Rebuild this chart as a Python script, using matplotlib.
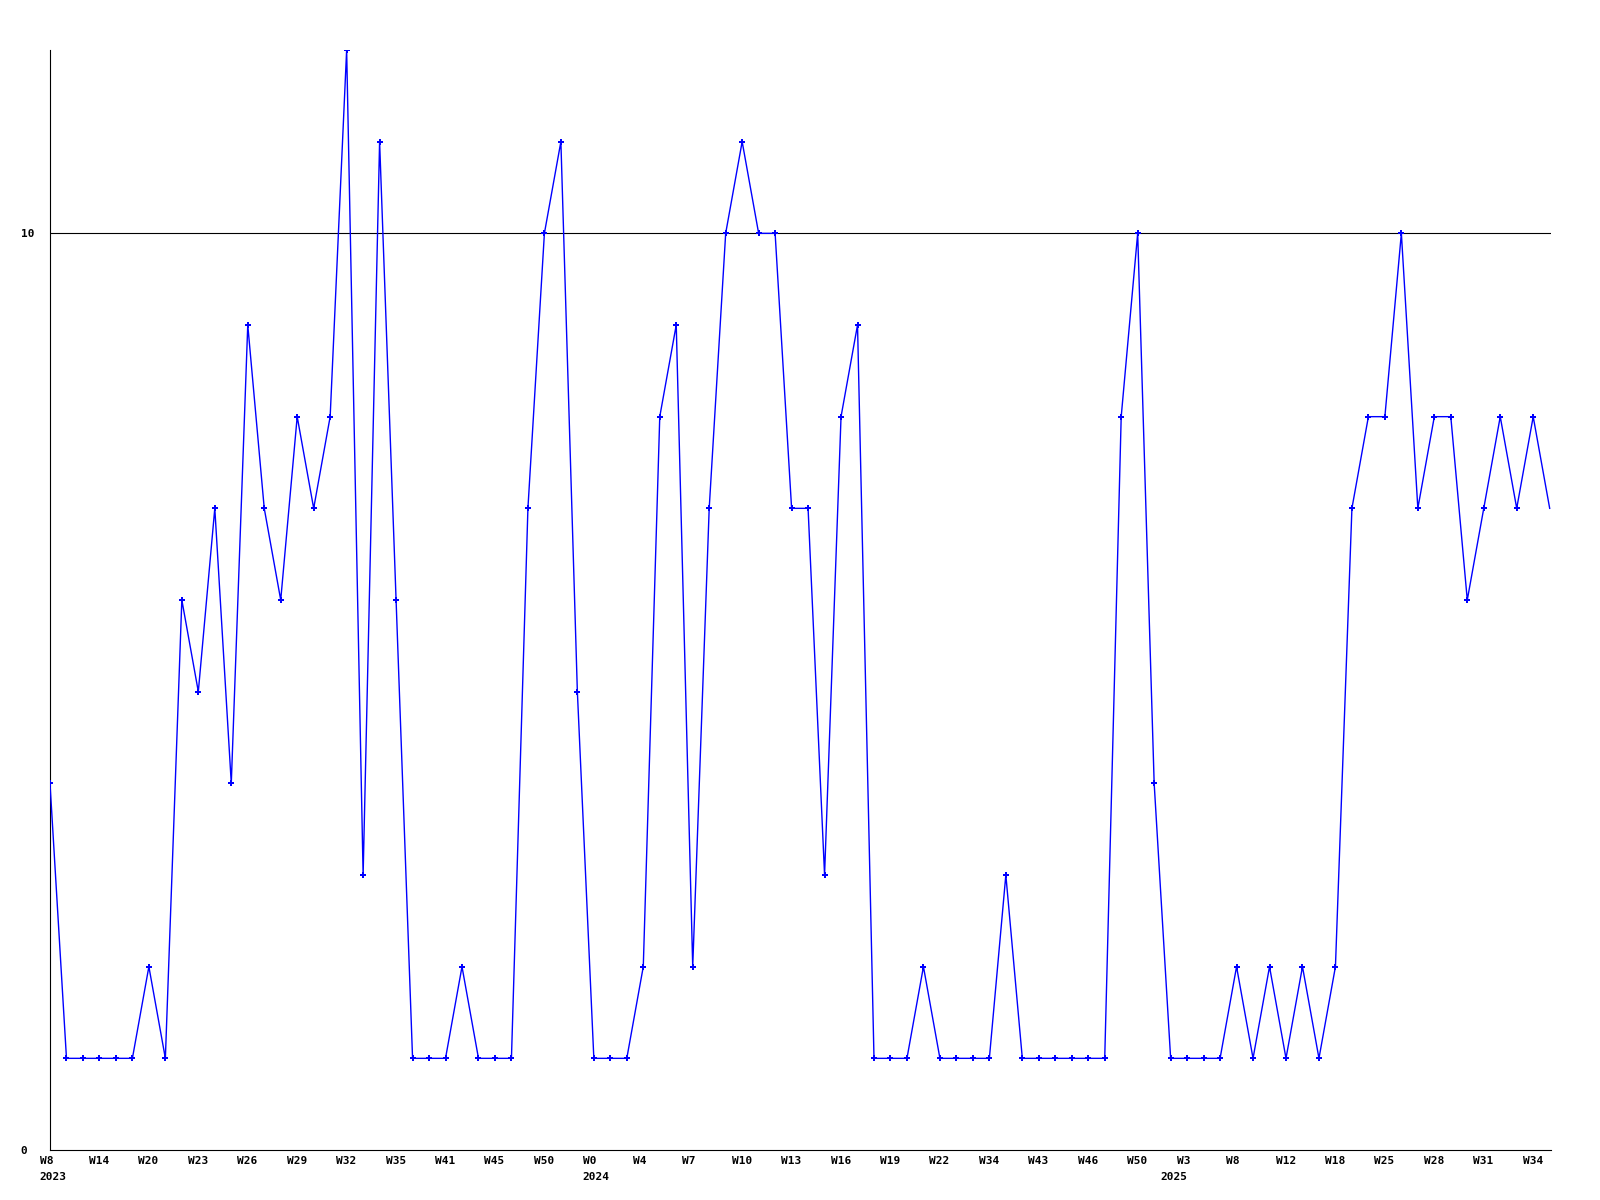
import numpy as np
import matplotlib
matplotlib.use("Agg")
import matplotlib.pyplot as plt
from matplotlib.transforms import ScaledTranslation, blended_transform_factory

values = [4, 1, 1, 1, 1, 1, 2, 1, 6, 5, 7, 4, 9, 7, 6, 8, 7, 8, 12, 3,
          11, 6, 1, 1, 1, 2, 1, 1, 1, 7, 10, 11, 5, 1, 1, 1, 2, 8, 9, 2,
          7, 10, 11, 10, 10, 7, 7, 3, 8, 9, 1, 1, 1, 2, 1, 1, 1, 1, 3, 1,
          1, 1, 1, 1, 1, 8, 10, 4, 1, 1, 1, 1, 2, 1, 2, 1, 2, 1, 2, 7,
          8, 8, 10, 7, 8, 8, 6, 7, 8, 7, 8, 7]

week_labels = ["W8", "W14", "W20", "W23", "W26", "W29", "W32", "W35", "W41", "W45",
               "W50", "W0", "W4", "W7", "W10", "W13", "W16", "W19", "W22", "W34",
               "W43", "W46", "W50", "W3", "W8", "W12", "W18", "W25", "W28", "W31",
               "W34"]
year_labels = ["2023", "2024", "2025"]
year_label_at = [0, 11, 23]

ytick_values = [0, 10]
ref_line = 10

fig = plt.figure(figsize=(16, 12), dpi=100)
ax = fig.add_axes([50 / 1600, 50 / 1200, 1501 / 1600, 1100 / 1200])

x = np.arange(len(values))
ax.plot(x, values, color="#0000ff", lw=1.0, marker="P", markersize=5,
        markeredgewidth=0, markevery=list(range(len(values) - 1)),
        clip_on=True, zorder=3)

ax.axhline(ref_line, color="black", lw=0.8, zorder=2)

px_per_pt = 16.48
ax.set_xlim(0, 1501 / px_per_pt)
ax.set_ylim(0, 12)

for s in ["top", "right"]:
    ax.spines[s].set_visible(False)
ax.spines["left"].set_linewidth(0.8)
ax.spines["bottom"].set_linewidth(0.8)

tick_pos = np.arange(len(week_labels)) * 3
ax.set_xticks(tick_pos)
ax.set_xticklabels(week_labels, fontfamily="DejaVu Sans Mono", fontweight="bold",
                   fontsize=8, ha="left")
ax.tick_params(axis="x", length=0, pad=4)
off = ScaledTranslation(-10.5 / 100, 0, fig.dpi_scale_trans)
for lab in ax.get_xticklabels():
    lab.set_transform(lab.get_transform() + off)

trans = blended_transform_factory(ax.transData, ax.transAxes)
year_offsets = [-10.5, -11, -27]
for yl, ti, dx in zip(year_labels, year_label_at, year_offsets):
    ax.text(tick_pos[ti], 0, yl, fontfamily="DejaVu Sans Mono", fontweight="bold",
            fontsize=8, ha="left", va="top",
            transform=trans + ScaledTranslation(dx / 100, -22 / 100, fig.dpi_scale_trans))

ax.set_yticks(ytick_values)
ax.set_yticklabels([str(v) for v in ytick_values], fontfamily="DejaVu Sans Mono",
                   fontweight="bold", fontsize=8, ha="left")
ax.tick_params(axis="y", length=0, pad=21.1)

fig.savefig("out.png", dpi=100)
